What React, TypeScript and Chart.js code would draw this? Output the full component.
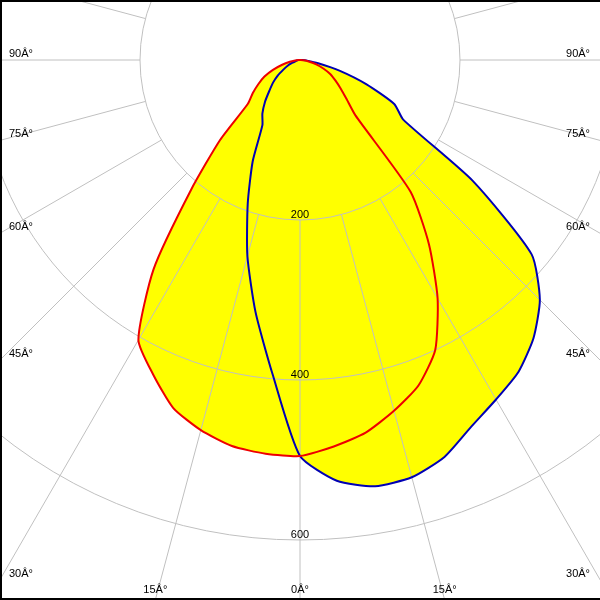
import React, { useEffect, useRef } from 'react';
import { Chart, registerables } from 'chart.js';

Chart.register(...registerables);

// Photometric angles (gamma, degrees from nadir) at which the curves are sampled
const GAMMA = [0, 5, 10, 15, 20, 25, 30, 35, 40, 45, 50, 55, 60, 65, 70, 75, 80, 85, 90,
  95, 100, 105, 110, 115, 120, 125, 130, 135, 140, 145, 150, 155, 160, 165, 170, 175, 180];

// Red plane (C0-C180): left half / right half, cd/klm
const RED_LEFT = [495, 494, 490, 479, 463, 434, 404, 319, 212, 141, 85, 72, 60, 49, 36, 23, 13, 6, 2,
  0, 0, 0, 0, 0, 0, 0, 0, 0, 0, 0, 0, 0, 0, 0, 0, 0, 0];
const RED_RIGHT = [495, 485, 473, 454, 433, 400, 344, 281, 215, 98, 76, 62, 51, 42, 31, 21, 11, 5, 1,
  0, 0, 0, 0, 0, 0, 0, 0, 0, 0, 0, 0, 0, 0, 0, 0, 0, 0];
// Blue plane (C90-C270): left half / right half, cd/klm
const BLUE_LEFT = [495, 394, 320, 254, 191, 140, 94, 82, 68, 54, 44, 34, 24, 17, 10, 6, 4, 2, 1,
  0, 0, 0, 0, 0, 0, 0, 0, 0, 0, 0, 0, 0, 0, 0, 0, 0, 0];
const BLUE_RIGHT = [495, 528, 541, 540, 528, 506, 490, 476, 454, 424, 378, 264, 149, 130, 88, 51, 23, 9, 3,
  0, 0, 0, 0, 0, 0, 0, 0, 0, 0, 0, 0, 0, 0, 0, 0, 0, 0];

const RING_VALUES = [200, 400, 600];
const EDGE_ANGLES = [0, 15, 30, 45, 60, 75, 90];
const SCALE_MAX = 800;

// layout (page coordinates)
const VIEW = 600;
const POLE_X = 300;
const POLE_Y = 60;
const RADIUS_PX = 640; // pixels for SCALE_MAX
const SIZE = RADIUS_PX * 2;

// full-circle ordering: bottom -> left -> top -> right -> bottom
const fullCircle = (left: number[], right: number[]) => [...left, ...right.slice(1, GAMMA.length - 1).reverse()];

const labelPlugin = {
  id: 'photoLabels',
  afterDraw(chart: any) {
    const s = chart.scales.r;
    const ctx = chart.ctx;
    const offX = s.xCenter - POLE_X;
    const offY = s.yCenter - POLE_Y;
    ctx.save();
    ctx.font = '11px "Liberation Sans", Arial, sans-serif';
    ctx.fillStyle = '#000';
    ctx.textBaseline = 'alphabetic';
    ctx.textAlign = 'center';
    RING_VALUES.forEach((v) => {
      const d = s.getDistanceFromCenterForValue(v);
      ctx.fillText(String(v), s.xCenter, s.yCenter + d - 2);
    });
    EDGE_ANGLES.forEach((a) => {
      [-1, 1].forEach((side) => {
        if (a === 0 && side === 1) return;
        const label = `${a}Â°`;
        const rad = (a * Math.PI) / 180;
        const sx = Math.sin(rad);
        const cy = Math.cos(rad);
        const tSide = sx > 1e-9 ? POLE_X / sx : Infinity;
        const tBottom = cy > 1e-9 ? (VIEW - POLE_Y) / cy : Infinity;
        if (tBottom < tSide) {
          const px = POLE_X + side * tBottom * sx;
          ctx.textAlign = 'center';
          ctx.fillText(label, px + offX, VIEW - 7 + offY);
        } else {
          const py = POLE_Y + tSide * cy;
          ctx.textAlign = side < 0 ? 'left' : 'right';
          const px = side < 0 ? 9 : VIEW - 10;
          ctx.fillText(label, px + offX, py - 3 + offY);
        }
      });
    });
    ctx.restore();
  },
};

export default function App() {
  const ref = useRef<HTMLCanvasElement | null>(null);
  useEffect(() => {
    if (!ref.current) return;
    const labels = fullCircle(GAMMA, GAMMA).map((g) => `${g}`);
    const chart = new Chart(ref.current, {
      type: 'radar',
      data: {
        labels,
        datasets: [
          {
            label: 'C0-C180',
            data: fullCircle(RED_LEFT, RED_RIGHT),
            borderColor: '#ee0000',
            backgroundColor: '#ffff00',
            borderWidth: 2,
            fill: 'origin',
            pointRadius: 0,
            tension: 0.2,
          },
          {
            label: 'C90-C270',
            data: fullCircle(BLUE_LEFT, BLUE_RIGHT),
            borderColor: '#0000b4',
            backgroundColor: '#ffff00',
            borderWidth: 2,
            fill: 'origin',
            pointRadius: 0,
            tension: 0.2,
          },
        ],
      },
      options: {
        responsive: false,
        animation: false,
        devicePixelRatio: 1,
        layout: { padding: 0 },
        plugins: {
          legend: { display: false },
          tooltip: { enabled: false },
          filler: { drawTime: 'beforeDraw' },
        },
        scales: {
          r: {
            min: 0,
            max: SCALE_MAX,
            startAngle: 180,
            ticks: { display: false, stepSize: 200 },
            pointLabels: { display: false },
            grid: { circular: true, color: '#c0c0c0', lineWidth: 1 },
            angleLines: {
              display: true,
              color: (c: any) => (c.index % 3 === 0 ? '#c0c0c0' : 'rgba(0,0,0,0)'),
              lineWidth: 1,
              borderDash: (c: any) => {
                const s = c.chart.scales.r;
                const d = s ? s.getDistanceFromCenterForValue(RING_VALUES[0]) : 160;
                return [0, d, 3000, 0];
              },
            },
          },
        },
      } as any,
      plugins: [labelPlugin],
    });
    return () => chart.destroy();
  }, []);

  return (
    <div style={{ position: 'fixed', left: 0, top: 0, width: VIEW, height: VIEW, overflow: 'hidden', background: '#fff' }}>
      <canvas
        ref={ref}
        width={SIZE}
        height={SIZE}
        style={{ position: 'absolute', left: POLE_X - RADIUS_PX, top: POLE_Y - RADIUS_PX, width: SIZE, height: SIZE }}
      />
      <div style={{ position: 'absolute', left: 0, top: 0, width: VIEW, height: 2, background: '#000' }} />
      <div style={{ position: 'absolute', left: 0, top: 0, width: 2, height: VIEW, background: '#000' }} />
      <div style={{ position: 'absolute', left: 0, top: VIEW - 2, width: VIEW, height: 2, background: '#000' }} />
    </div>
  );
}
